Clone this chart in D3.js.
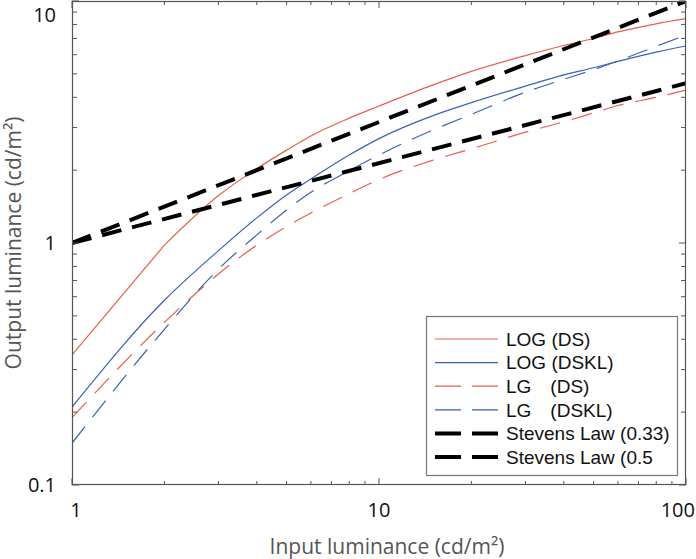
<!DOCTYPE html>
<html><head><meta charset="utf-8">
<script src="https://cdn.jsdelivr.net/npm/d3@7"></script>
<style>body{margin:0;background:#fff}svg{display:block}</style>
</head><body>
<script>
// ---- data ----
const xIn = [1, 2, 3, 4, 5, 6, 8, 10, 15, 20, 30, 40, 50, 60, 80, 100];
const logDS   = [0.345, 0.98, 1.57, 2.03, 2.42, 2.77, 3.28, 3.68, 4.5, 5.12, 5.95, 6.55, 7.0, 7.45, 8.05, 8.45];
const logDSKL = [0.21, 0.58, 0.93, 1.27, 1.58, 1.84, 2.31, 2.7, 3.36, 3.8, 4.45, 4.95, 5.3, 5.63, 6.15, 6.52];
const lgDS    = [0.19, 0.47, 0.745, 0.98, 1.17, 1.33, 1.6, 1.83, 2.2, 2.45, 2.87, 3.17, 3.45, 3.7, 4.0, 4.28];
const lgDSKL  = [0.149, 0.44, 0.78, 1.08, 1.37, 1.62, 1.99, 2.31, 2.93, 3.4, 4.2, 4.75, 5.2, 5.65, 6.5, 7.23];
const stevensX = [1, 100];
const stevens033 = [1, 4.57];
const stevens05 = [1, 10];
const xTicks = [1, 10, 100];
const yTicks = [0.1, 1, 10];
const legendLabels = ["LOG (DS)", "LOG (DSKL)", "LG\u2003(DS)", "LG\u2003(DSKL)", "Stevens Law (0.33)", "Stevens Law (0.5"];

// ---- layout ----
const W = 696, H = 559;
const L = 72, R = 686, T = 1, B = 485;
const RED = "#e5604a", BLUE = "#3a62b2";

const svg = d3.select("body").append("svg").attr("width", W).attr("height", H);
const x = d3.scaleLog().domain([1, 100]).range([L, R]);
const y = d3.scaleLog().domain([0.1, 10]).range([B, T]);

svg.append("clipPath").attr("id", "clip").append("rect")
  .attr("x", L).attr("y", T).attr("width", R - L).attr("height", B - T);

const line = d3.line().x(d => x(d[0])).y(d => y(d[1]));
const smooth = d3.line().x(d => x(d[0])).y(d => y(d[1])).curve(d3.curveMonotoneX);
const g = svg.append("g").attr("clip-path", "url(#clip)");

const series = [
  {xs: xIn, ys: logDS, color: RED, w: 1.2, dash: null, smooth: false},
  {xs: xIn, ys: logDSKL, color: BLUE, w: 1.2, dash: null, smooth: true},
  {xs: xIn, ys: lgDS, color: RED, w: 1.2, dash: "21,12", smooth: true},
  {xs: xIn, ys: lgDSKL, color: BLUE, w: 1.2, dash: "21,12", smooth: true},
  {xs: stevensX, ys: stevens033, color: "#000", w: 4, dash: "20,11", smooth: false},
  {xs: stevensX, ys: stevens05, color: "#000", w: 4, dash: "20,11", smooth: false}
];
series.forEach(s => {
  const pts = s.xs.map((v, i) => [v, s.ys[i]]);
  let d;
  if (s.ys === logDS) {
    // sharp corner at x=2, smooth afterwards
    d = line(pts.slice(0, 2)) + smooth(pts.slice(1)).replace(/^M/, "L");
  } else {
    d = (s.smooth ? smooth : line)(pts);
  }
  g.append("path").attr("d", d).attr("fill", "none").attr("stroke", s.color)
    .attr("stroke-width", s.w).attr("stroke-dasharray", s.dash);
});

// ---- axes / box ----
const axisColor = "#555";
const minorX = [];
[1, 10].forEach(dec => { for (let k = 2; k <= 9; k++) minorX.push(dec * k); });
const minorY = [];
[0.1, 1].forEach(dec => { for (let k = 2; k <= 9; k++) minorY.push(dec * k); });

const ax = svg.append("g").attr("stroke", axisColor).attr("stroke-width", 1);
minorX.concat(xTicks).forEach(v => {
  const len = xTicks.includes(v) ? 7 : 4;
  const px = x(v);
  ax.append("line").attr("x1", px).attr("x2", px).attr("y1", B).attr("y2", B - len);
  ax.append("line").attr("x1", px).attr("x2", px).attr("y1", T).attr("y2", T + len);
});
minorY.concat(yTicks).forEach(v => {
  const len = yTicks.includes(v) ? 7 : 5;
  const py = y(v);
  ax.append("line").attr("x1", L).attr("x2", L + len).attr("y1", py).attr("y2", py);
  ax.append("line").attr("x1", R).attr("x2", R - len).attr("y1", py).attr("y2", py);
});
svg.append("rect").attr("x", L + 0.5).attr("y", T + 0.5).attr("width", R - L - 1).attr("height", B - T - 1)
  .attr("fill", "none").attr("stroke", axisColor).attr("stroke-width", 1.2);

const tickFont = "'Open Sans', 'Noto Sans', sans-serif";
xTicks.forEach(v => {
  const px = x(v);
  const anchor = v === 100 ? "end" : "middle";
  const dx = v === 100 ? 9 : (v === 1 ? 4 : 0);
  svg.append("text").attr("x", px + dx).attr("y", 517).attr("text-anchor", anchor)
    .attr("font-family", tickFont).attr("font-size", 20).attr("fill", "#111").text(d3.format("")(v));
});
yTicks.forEach(v => {
  const py = y(v);
  const dy = v === 10 ? 14 : 0;
  svg.append("text").attr("x", 56).attr("y", py + dy).attr("dy", "0.36em").attr("text-anchor", "end")
    .attr("font-family", tickFont).attr("font-size", 20).attr("fill", "#111").text(d3.format("")(v));
});

// axis titles
const labFont = "'Open Sans', 'Noto Sans', sans-serif";
svg.append("text").attr("x", (L + R) / 2 + 8).attr("y", 554).attr("text-anchor", "middle")
  .attr("font-family", labFont).attr("font-size", 21).attr("fill", "#555")
  .text("Input luminance (cd/m\u00B2)");
svg.append("text").attr("transform", `translate(21,${(T + B) / 2}) rotate(-90)`).attr("text-anchor", "middle")
  .attr("font-family", labFont).attr("font-size", 21).attr("fill", "#555")
  .text("Output luminance (cd/m\u00B2)");

// ---- legend ----
const lg = svg.append("g");
lg.append("rect").attr("x", 426.5).attr("y", 316.5).attr("width", 251).attr("height", 159)
  .attr("fill", "#fff").attr("stroke", "#777").attr("stroke-width", 1.2);
series.forEach((s, i) => {
  const ly = 339 + i * 23.6;
  lg.append("line").attr("x1", 435).attr("x2", 498).attr("y1", ly).attr("y2", ly)
    .attr("stroke", s.color).attr("stroke-width", s.w)
    .attr("stroke-dasharray", s.dash ? "26,11" : null);
  lg.append("text").attr("x", 506).attr("y", ly).attr("dy", "0.36em")
    .attr("font-family", "'Liberation Sans', Arial, sans-serif").attr("font-size", 19).attr("fill", "#111")
    .text(legendLabels[i]);
});
</script>
</body></html>
